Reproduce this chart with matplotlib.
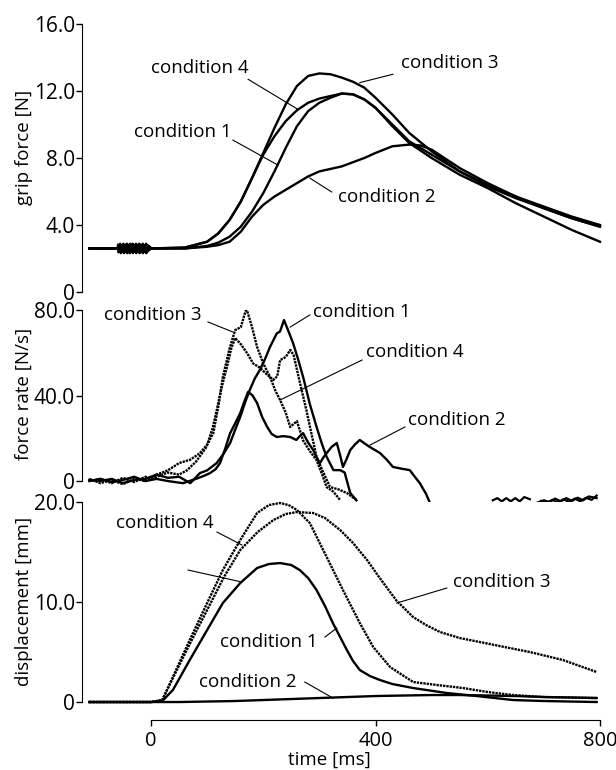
import numpy as np
import matplotlib
matplotlib.use("Agg")
import matplotlib.pyplot as plt

plt.rcParams['font.family'] = ['Open Sans', 'DejaVu Sans']

# ---------------- grip force [N] ----------------
grip_t3 = [-110, -60, 0, 60, 100, 120, 140, 160, 180, 200, 220, 240, 260, 280, 300, 320, 340, 360, 380, 400, 430, 460, 500, 550, 600, 650, 700, 750, 800]
grip_c3 = [2.6, 2.6, 2.6, 2.65, 3.0, 3.5, 4.3, 5.4, 6.8, 8.3, 9.8, 11.2, 12.3, 12.9, 13.05, 13.0, 12.8, 12.55, 12.2, 11.6, 10.6, 9.5, 8.4, 7.2, 6.3, 5.6, 5.0, 4.4, 3.9]

grip_t4 = [-110, 0, 60, 100, 120, 140, 160, 180, 200, 220, 240, 260, 280, 300, 320, 340, 360, 380, 400, 430, 460, 500, 550, 600, 650, 700, 750, 800]
grip_c4 = [2.6, 2.6, 2.65, 3.0, 3.5, 4.3, 5.4, 6.8, 8.2, 9.3, 10.2, 10.85, 11.3, 11.55, 11.7, 11.85, 11.8, 11.5, 11.0, 10.0, 9.0, 8.2, 7.2, 6.4, 5.7, 5.1, 4.5, 4.0]

grip_t1 = [-110, 0, 60, 100, 120, 140, 160, 180, 200, 220, 240, 260, 280, 300, 320, 340, 360, 380, 400, 430, 460, 500, 550, 600, 650, 700, 750, 800]
grip_c1 = [2.6, 2.6, 2.6, 2.75, 2.95, 3.3, 3.9, 4.8, 5.9, 7.2, 8.6, 9.9, 10.8, 11.3, 11.6, 11.85, 11.8, 11.5, 11.0, 9.9, 8.9, 8.0, 7.0, 6.2, 5.3, 4.5, 3.7, 3.0]

grip_t2 = [-110, 0, 60, 100, 120, 140, 160, 180, 200, 220, 240, 260, 280, 300, 320, 340, 360, 380, 400, 430, 460, 480, 500, 550, 600, 650, 700, 750, 800]
grip_c2 = [2.6, 2.6, 2.6, 2.7, 2.8, 3.0, 3.6, 4.5, 5.2, 5.7, 6.1, 6.5, 6.9, 7.2, 7.35, 7.5, 7.75, 8.0, 8.3, 8.7, 8.8, 8.75, 8.5, 7.4, 6.5, 5.7, 5.0, 4.4, 3.9]

# noisy stretch of the baseline before movement onset
grip_noise = [2.6, 2.85, 2.35, 2.8, 2.4, 2.9, 2.3, 2.75, 2.45, 2.85, 2.35, 2.9, 2.3, 2.8, 2.4, 2.85,
              2.35, 2.9, 2.3, 2.8, 2.45, 2.85, 2.3, 2.9, 2.35, 2.8, 2.4, 2.9, 2.3, 2.85, 2.4,
              2.8, 2.35, 2.9, 2.3, 2.85, 2.4, 2.8, 2.35, 2.9, 2.3, 2.85, 2.45, 2.8, 2.35, 2.9,
              2.3, 2.85, 2.4, 2.8, 2.35, 2.9, 2.3, 2.85, 2.4, 2.8, 2.45, 2.75, 2.5, 2.7, 2.6]
grip_noise_t = np.linspace(-60, 0, len(grip_noise))

# ---------------- force rate [N/s] ----------------
rate_tA = [-110, -90, -70, -50, -30, -10, 0, 10, 30, 50, 70, 87, 100, 111, 120, 128, 140, 150, 160, 170, 180, 189, 200, 212, 222, 230, 240, 248, 260, 271, 283, 295, 305, 313, 325, 337]
rate_cA = [0, 1, -1, 1.5, -0.5, 2, 1, 3, 5, 8.4, 10, 13, 17, 22.4, 35, 48.7, 62, 70.6, 72, 80.8, 72, 62.7, 55, 48.7, 42, 37.9, 32, 25.3, 28, 19, 14, 9.8, 3, -2.8, -5, -8.9]

rate_tB = [-110, -90, -70, -50, -30, -10, 10, 30, 50, 64, 80, 99, 110, 117, 127, 135, 143, 150, 160, 171, 182, 194, 206, 218, 225, 230, 240, 248, 254, 259, 268, 277, 286, 295, 307, 319, 335, 349, 366]
rate_cB = [1, -1, 0.5, -1.5, 1, 0, 2, 4, 3, 5, 9, 16, 25, 33, 45, 53, 62, 66.9, 64, 59.9, 55, 53, 50, 47.3, 49, 56.6, 58, 61.3, 59, 53.3, 43, 33, 22, 11.3, 4, -2.8, -4, -5.6, -8.9]

rate_t1 = [-110, -90, -70, -50, -30, -10, 10, 30, 50, 70, 87, 100, 117, 130, 141, 150, 159, 168, 176, 185, 194, 203, 212, 224, 230, 237, 245, 253, 262, 271, 283, 295, 305, 313, 325, 337, 345, 355, 366]
rate_c1 = [0.5, 0, 1, -1, 0.5, 1, 3, 1.5, 2, -1, 3.7, 5, 8.4, 13, 17.8, 24, 30, 37, 42.6, 48, 52, 57, 62.7, 69, 70, 75.3, 70, 64.6, 57, 48.7, 36, 25.3, 17, 11.3, 5.1, 5.1, 4, -5.6, -9]

rate_t2 = [-110, -90, -70, -50, -30, -10, 10, 30, 57, 80, 95, 105, 115, 123, 132, 141, 150, 159, 166, 173, 181, 189, 198, 207, 215, 224, 236, 248, 259, 265, 271, 280, 289, 295, 301, 307, 313, 322, 331, 337, 342, 348, 355, 363, 372, 381, 390, 399, 408, 420, 431, 446, 461, 470, 479, 490, 500]
rate_c2 = [0, 1, -0.5, 0.5, 2, 0, 1, 0, -1, 1, 2.5, 3.7, 5.5, 8.4, 15, 22.4, 27, 31.8, 37, 41.7, 40, 36.5, 30, 25.3, 22, 20.6, 21, 20.6, 19.2, 21, 22.4, 18, 14.5, 11, 8.4, 11, 13.1, 16, 17.8, 12, 6.6, 10, 14.5, 17, 19.2, 17.5, 15.9, 14.5, 13.1, 10, 6.6, 5.8, 5.1, 2, -1, -6, -12]

# short late fragments below zero
frag_t1 = [609, 617, 625, 633, 641, 649, 657, 665, 675]
frag_v1 = [-9, -8, -9.5, -8, -9.5, -8, -9.5, -7.5, -8.5]
frag_t2 = [689, 700, 710, 720, 730, 740, 750, 760, 770, 780, 794]
frag_v2 = [-10, -9, -9.8, -8.2, -9.5, -8, -9.3, -7.8, -9, -7.2, -8]
frag_t3 = [695, 705, 715, 725, 735, 745, 755, 765, 775, 785, 794]
frag_v3 = [-9.3, -10.2, -8.8, -10, -8.5, -9.8, -8.2, -9.5, -7.8, -8.8, -6.8]

# ---------------- displacement [mm] ----------------
disp_tA = [-110, 0, 20, 39, 69, 100, 128, 159, 189, 210, 230, 245, 260, 283, 313, 342, 372, 396, 426, 467, 510, 556, 600, 645, 700, 750, 794]
disp_cA = [0, 0, 0.2, 2.5, 6.2, 9.9, 13.2, 16.2, 18.9, 19.7, 19.9, 19.7, 19.2, 17.9, 14.5, 11.2, 7.9, 5.5, 3.5, 2.0, 1.7, 1.4, 1.0, 0.7, 0.5, 0.45, 0.4]

disp_t3 = [-110, 0, 20, 39, 69, 100, 130, 159, 190, 218, 240, 260, 289, 310, 337, 360, 385, 405, 426, 438, 467, 490, 515, 550, 586, 630, 675, 734, 794]
disp_c3 = [0, 0, 0.2, 2.4, 5.8, 9.2, 12.5, 15.2, 17.0, 18.2, 18.8, 19.0, 18.9, 18.4, 17.2, 15.9, 14.2, 12.6, 11.0, 10.1, 8.5, 7.7, 7.0, 6.4, 6.0, 5.5, 5.0, 4.2, 3.0]

disp_t1 = [-110, 0, 20, 39, 69, 100, 128, 159, 189, 210, 230, 250, 265, 280, 295, 310, 324, 337, 349, 360, 372, 390, 408, 430, 467, 527, 580, 645, 700, 794]
disp_c1 = [0, 0, 0.1, 1.2, 4.2, 7.2, 9.9, 11.9, 13.4, 13.8, 13.9, 13.7, 13.2, 12.4, 11.2, 9.6, 7.9, 6.5, 5.2, 4.1, 3.2, 2.6, 2.2, 1.8, 1.4, 0.9, 0.6, 0.2, 0.1, 0.0]

disp_t2 = [-110, 0, 50, 100, 150, 200, 250, 300, 350, 400, 450, 500, 550, 600, 650, 700, 750, 794]
disp_c2 = [0, 0, 0, 0.05, 0.1, 0.2, 0.3, 0.4, 0.5, 0.6, 0.65, 0.7, 0.7, 0.65, 0.6, 0.5, 0.45, 0.4]

DOT = (0, (1, 0.4))
LW = 1.7
XLIM = (-123.5, 805)


def style_axis(ax, ticks, labels):
    ax.set_xlim(*XLIM)
    for s in ['top', 'right', 'bottom']:
        ax.spines[s].set_visible(False)
    ax.spines['left'].set_bounds(ticks[0], ticks[-1])
    ax.set_yticks(ticks)
    ax.set_yticklabels(labels)
    ax.set_xticks([])
    ax.tick_params(axis='y', direction='out', length=4, width=1, pad=1, labelsize=15)


def label(ax, text, xy_text, xy0, xy1):
    ax.text(xy_text[0], xy_text[1], text, ha='center', va='center', fontsize=13.5)
    ax.plot([xy0[0], xy1[0]], [xy0[1], xy1[1]], color='black', lw=0.8)


fig = plt.figure(figsize=(6.16, 7.7), dpi=100)
ax1 = fig.add_axes([0.1326, 0.6208, 0.846, 0.348])
ax2 = fig.add_axes([0.1326, 0.3364, 0.846, 0.261])
ax3 = fig.add_axes([0.1326, 0.0649, 0.846, 0.2831])

# grip force
for t, v in [(grip_t1, grip_c1), (grip_t2, grip_c2), (grip_t3, grip_c3), (grip_t4, grip_c4)]:
    ax1.plot(t, v, color='black', lw=LW)
ax1.plot(grip_noise_t, grip_noise, color='black', lw=1.3)
ax1.set_ylim(0, 16)
style_axis(ax1, [0, 4, 8, 12, 16], ['0', '4.0', '8.0', '12.0', '16.0'])
label(ax1, 'condition 4', (87, 13.4), (173, 12.7), (262, 10.9))
label(ax1, 'condition 1', (57, 9.55), (146, 9.07), (226, 7.58))
label(ax1, 'condition 2', (420, 5.67), (322, 5.97), (283, 6.8))
label(ax1, 'condition 3', (533, 13.67), (431, 13.0), (372, 12.5))

# force rate
ax2.plot(rate_tA, rate_cA, color='black', lw=LW, ls=DOT)
ax2.plot(rate_tB, rate_cB, color='black', lw=LW, ls=DOT)
ax2.plot(rate_t1, rate_c1, color='black', lw=LW)
ax2.plot(rate_t2, rate_c2, color='black', lw=LW)
for t, v in [(frag_t1, frag_v1), (frag_t2, frag_v2), (frag_t3, frag_v3)]:
    ax2.plot(t, v, color='black', lw=1.6)
ax2.set_ylim(-14, 80)
style_axis(ax2, [0, 40, 80], ['0', '40.0', '80.0'])
label(ax2, 'condition 3', (3.6, 77.7), (101.5, 74.4), (146, 69.7))
label(ax2, 'condition 1', (376, 79.1), (283, 77.7), (248, 72))
label(ax2, 'condition 4', (470, 60.4), (376, 56.6), (230, 37.9))
label(ax2, 'condition 2', (545, 28.5), (452.5, 25.3), (390, 16.8))

# displacement
ax3.plot(disp_tA, disp_cA, color='black', lw=LW, ls=DOT)
ax3.plot(disp_t3, disp_c3, color='black', lw=LW, ls=DOT)
ax3.plot(disp_t1, disp_c1, color='black', lw=LW)
ax3.plot(disp_t2, disp_c2, color='black', lw=LW)
ax3.set_ylim(-1.8, 20)
style_axis(ax3, [0, 10, 20], ['0', '10.0', '20.0'])
ax3.spines['bottom'].set_visible(True)
ax3.spines['bottom'].set_bounds(0, 800)
ax3.set_xticks([0, 400, 800])
ax3.set_xticklabels(['0', '400', '800'])
ax3.tick_params(axis='x', direction='out', length=4, width=1, pad=4, labelsize=14.5)
label(ax3, 'condition 4', (25, 17.9), (117.6, 17.0), (162, 15.7))
ax3.plot([66, 162], [13.2, 12.0], color='black', lw=0.8)
label(ax3, 'condition 1', (210, 6.0), (310, 6.5), (331, 7.4))
label(ax3, 'condition 2', (173, 2.0), (274, 2.0), (324, 0.4))
label(ax3, 'condition 3', (625, 12.0), (527, 11.4), (438, 9.9))

fig.text(0.039, 0.808, 'grip force [N]', rotation=90, ha='center', va='center', fontsize=13.5)
fig.text(0.039, 0.4883, 'force rate [N/s]', rotation=90, ha='center', va='center', fontsize=13.5)
fig.text(0.039, 0.2195, 'displacement [mm]', rotation=90, ha='center', va='center', fontsize=13.5)
fig.text(0.534, 0.013, 'time [ms]', ha='center', va='center', fontsize=13.5)

fig.savefig('out.png', dpi=100)
